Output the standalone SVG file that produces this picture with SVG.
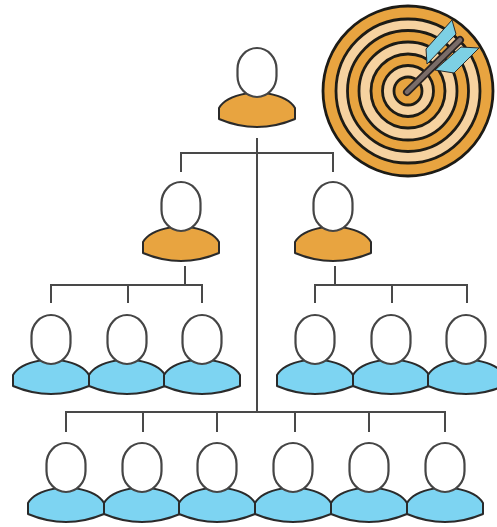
<svg xmlns="http://www.w3.org/2000/svg" width="497" height="527" viewBox="0 0 497 527">
<style>
.head{fill:#fff;stroke:#444;stroke-width:2.2}
.body{stroke:#2c2c2c;stroke-width:2;stroke-linejoin:round}
.orange{fill:#E8A43F}
.blue{fill:#7DD4F2}
.conn{fill:none;stroke:#4a4a4a;stroke-width:2}
.ring{stroke:#1e1a16;stroke-width:2.8}
.cream{fill:#F6D2A0}
.feather{fill:#7DD0E4;stroke:#2a2a2a;stroke-width:1}
</style>
<defs>
<filter id="soft" x="-5%" y="-5%" width="110%" height="110%"><feGaussianBlur stdDeviation="0.55"/></filter>
<path id="bshape" d="M-38 60C-34 53-24 48-11 45.500H11C24 48 34 53 38 60V71Q0 87-38 71Z"/>
<rect id="h" x="-19.500" y="0" width="39" height="49" rx="19.500" ry="21"/>
</defs>
<rect width="497" height="527" fill="#fff"/>
<g filter="url(#soft)">
<g id="connectors" class="conn">
<path d="M257 138V412M181 172V153H333V172"/>
<path d="M185 266V285M51 303V285H202V303M128 285V303"/>
<path d="M335 266V285M315 303V285H467V303M392 285V303"/>
<path d="M66 432V412H445V432M143 412V432M217 412V432M295 412V432M369 412V432"/>
</g>
<g id="person-top" transform="translate(257,48)"><use href="#bshape" class="body orange"/><use href="#h" class="head"/></g>
<g id="person-mid-1" transform="translate(181,182)"><use href="#bshape" class="body orange"/><use href="#h" class="head"/></g>
<g id="person-mid-2" transform="translate(333,182)"><use href="#bshape" class="body orange"/><use href="#h" class="head"/></g>
<g id="person-a1" transform="translate(51,315)"><use href="#bshape" class="body blue"/><use href="#h" class="head"/></g>
<g id="person-a2" transform="translate(127,315)"><use href="#bshape" class="body blue"/><use href="#h" class="head"/></g>
<g id="person-a3" transform="translate(202,315)"><use href="#bshape" class="body blue"/><use href="#h" class="head"/></g>
<g id="person-b1" transform="translate(315,315)"><use href="#bshape" class="body blue"/><use href="#h" class="head"/></g>
<g id="person-b2" transform="translate(391,315)"><use href="#bshape" class="body blue"/><use href="#h" class="head"/></g>
<g id="person-b3" transform="translate(466,315)"><use href="#bshape" class="body blue"/><use href="#h" class="head"/></g>
<g id="person-c1" transform="translate(66,443)"><use href="#bshape" class="body blue"/><use href="#h" class="head"/></g>
<g id="person-c2" transform="translate(142,443)"><use href="#bshape" class="body blue"/><use href="#h" class="head"/></g>
<g id="person-c3" transform="translate(217,443)"><use href="#bshape" class="body blue"/><use href="#h" class="head"/></g>
<g id="person-c4" transform="translate(293,443)"><use href="#bshape" class="body blue"/><use href="#h" class="head"/></g>
<g id="person-c5" transform="translate(369,443)"><use href="#bshape" class="body blue"/><use href="#h" class="head"/></g>
<g id="person-c6" transform="translate(445,443)"><use href="#bshape" class="body blue"/><use href="#h" class="head"/></g>
<g id="target">
<circle cx="408" cy="91" r="85" class="ring orange"/>
<circle cx="408" cy="91" r="72" class="ring cream"/>
<circle cx="408" cy="91" r="60.500" class="ring orange"/>
<circle cx="408" cy="91" r="49" class="ring cream"/>
<circle cx="408" cy="91" r="37" class="ring orange"/>
<circle cx="408" cy="91" r="25.500" class="ring cream"/>
<circle cx="408" cy="91" r="14" class="ring orange"/>
<path d="M452 20L426 49L427 64L456 34Z" class="feather"/>
<path d="M479 48L454 73L435 70L461 47Z" class="feather"/>
<path d="M407 92L460 40" stroke="#2a2422" stroke-width="8" stroke-linecap="round"/>
<path d="M407 92L460 40" stroke="#7a6c68" stroke-width="4.500" stroke-linecap="round"/>
</g>
</g>
</svg>
